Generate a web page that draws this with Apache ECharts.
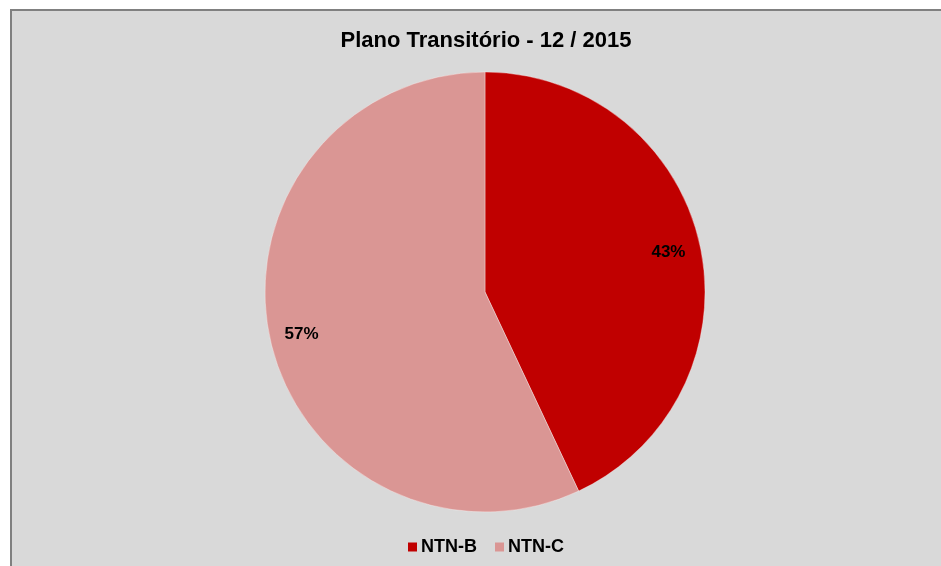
<!DOCTYPE html>
<html>
<head>
<meta charset="utf-8">
<script src="https://cdn.jsdelivr.net/npm/echarts@6/dist/echarts.min.js"></script>
<style>
  body { margin: 0; background: #fff; overflow: hidden; }
  #frame { position: absolute; left: 10px; top: 9px; right: 0; bottom: 0;
           background: #d9d9d9; border-left: 2px solid #808080; border-top: 2px solid #808080; }
  #chart { position: absolute; left: 11px; top: 0; width: 950px; height: 566px; }
</style>
</head>
<body>
<div id="frame"></div>
<div id="chart"></div>
<script>
var categories = ['NTN-B', 'NTN-C'];
var values = [43, 57];
var colors = ['#c00000', '#da9694'];

window.onload = function() {
    var chart = echarts.init(document.getElementById('chart'));
    var data = categories.map(function(name, i) {
        return { name: name, value: values[i], itemStyle: { color: colors[i] } };
    });
    var font = 'Liberation Sans, Arial, sans-serif';
    chart.setOption({
        animation: false,
        title: {
            text: 'Plano Transitório - 12 / 2015',
            left: 'center',
            top: 25,
            textStyle: { fontFamily: font, fontSize: 22, fontWeight: 'bold', color: '#000' }
        },
        legend: {
            data: categories,
            bottom: 5,
            left: 'center',
            icon: 'rect',
            itemWidth: 9,
            itemHeight: 9,
            itemGap: 18,
            itemStyle: { borderWidth: 0 },
            textStyle: { fontFamily: font, fontSize: 18, fontWeight: 'bold', color: '#000', padding: [0, 0, 0, -1] }
        },
        series: [{
            // visible pie
            type: 'pie',
            center: [474, 292],
            radius: [0, 220],
            startAngle: 90,
            clockwise: true,
            silent: true,
            label: { show: false },
            labelLine: { show: false },
            itemStyle: { borderColor: 'rgba(255,255,255,0.35)', borderWidth: 1 },
            data: data
        }, {
            // transparent ring, only to place the percent labels near the rim
            type: 'pie',
            center: [474, 293],
            radius: [150, 220],
            startAngle: 90,
            clockwise: true,
            silent: true,
            legendHoverLink: false,
            itemStyle: { color: 'rgba(0,0,0,0)' },
            label: {
                show: true,
                position: 'inside',
                formatter: '{c}%',
                fontFamily: font,
                fontSize: 17,
                fontWeight: 'bold',
                color: '#000'
            },
            labelLine: { show: false },
            data: categories.map(function(name, i) {
                return { name: name + ' ', value: values[i] };
            })
        }]
    });
};
</script>
</body>
</html>
